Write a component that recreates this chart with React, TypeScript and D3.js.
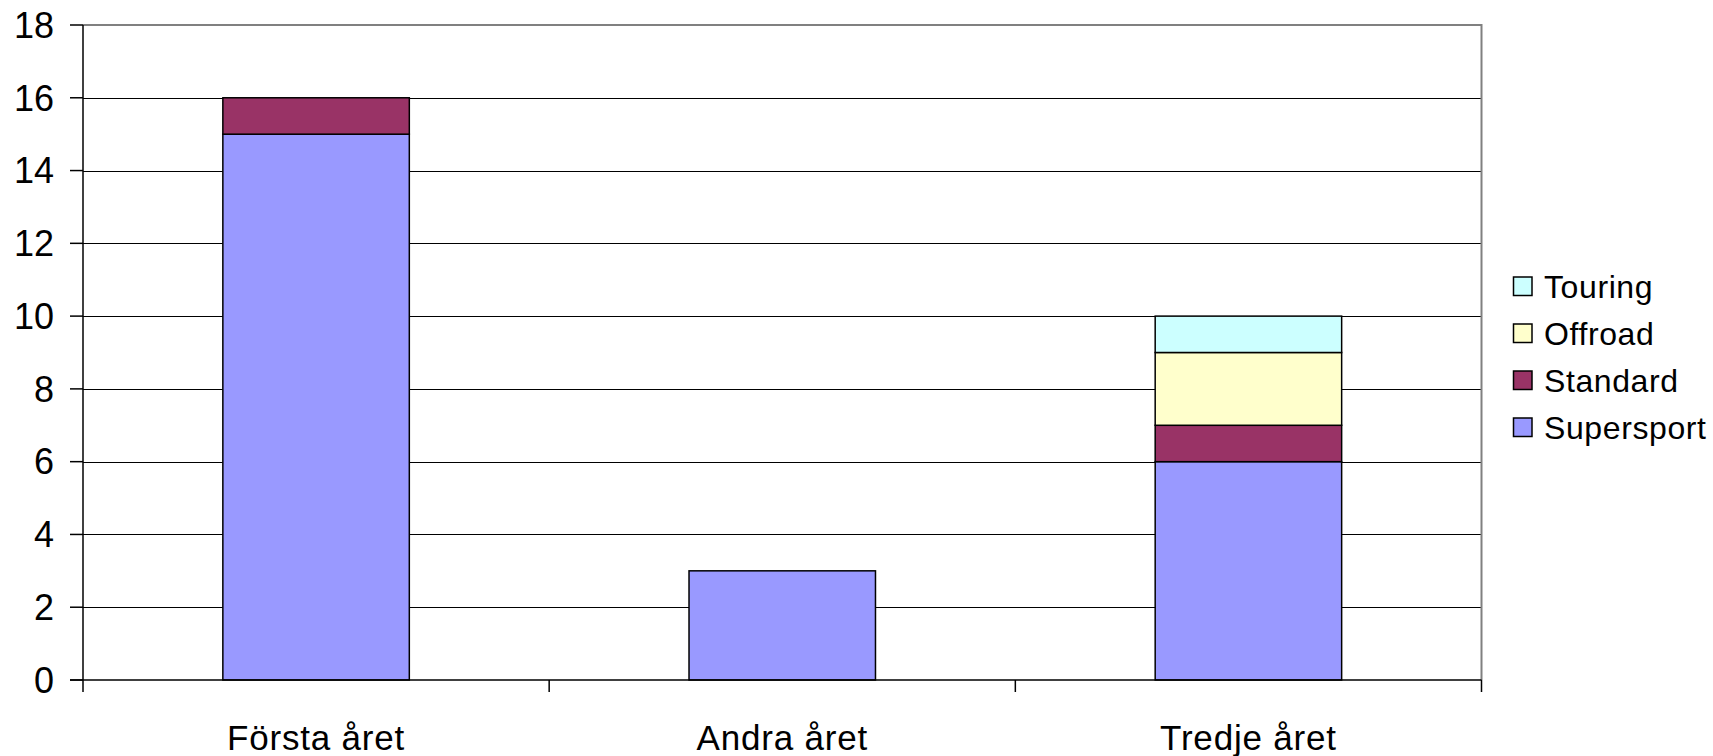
import React from "react";
import * as d3 from "d3";

const categories = ["Första året", "Andra året", "Tredje året"];
const seriesNames = ["Supersport", "Standard", "Offroad", "Touring"];
const supersport = [15, 3, 6];
const standard = [1, 0, 1];
const offroad = [0, 0, 2];
const touring = [0, 0, 1];
const seriesColors = ["#9999FF", "#993366", "#FFFFCC", "#CCFFFF"];
const yTicks = [0, 2, 4, 6, 8, 10, 12, 14, 16, 18];

const W = 1713;
const H = 756;
const left = 83;
const right = 1481.5;
const top = 25;
const bottom = 680;

export default function App() {
  const x = d3.scaleBand<string>().domain(categories).range([left, right]).paddingInner(0).paddingOuter(0);
  const y = d3.scaleLinear().domain([0, 18]).range([bottom, top]);
  const barW = x.bandwidth() * 0.4;

  const table = categories.map((c, i) => ({
    cat: c,
    Supersport: supersport[i],
    Standard: standard[i],
    Offroad: offroad[i],
    Touring: touring[i],
  }));
  const stacked = d3.stack<any>().keys(seriesNames)(table);

  const font = "'Liberation Sans', Arial, sans-serif";
  const legendItems = [...seriesNames].reverse();
  const legendY0 = 286.5;
  const legendStep = 47;

  return (
    <svg width={W} height={H} style={{ position: "absolute", left: 0, top: 0 }} fontFamily={font}>
      <rect x={0} y={0} width={W} height={H} fill="#fff" />
      {/* gridlines */}
      {yTicks.filter((t) => t > 0 && t < 18).map((t) => (
        <line key={t} x1={left} x2={right} y1={Math.round(y(t)) + 0.5} y2={Math.round(y(t)) + 0.5} stroke="#000" strokeWidth={1} />
      ))}
      {/* plot border top/right */}
      <line x1={left} x2={right} y1={top} y2={top} stroke="#808080" strokeWidth={2} />
      <line x1={right} x2={right} y1={top - 1} y2={bottom} stroke="#808080" strokeWidth={2} />
      {/* bars */}
      {stacked.map((s, si) =>
        s.map((d, ci) => {
          if (d[1] - d[0] <= 0) return null;
          const cx = (x(categories[ci]) as number) + x.bandwidth() / 2;
          return (
            <rect
              key={si + "-" + ci}
              x={cx - barW / 2}
              y={y(d[1])}
              width={barW}
              height={y(d[0]) - y(d[1])}
              fill={seriesColors[si]}
              stroke="#000"
              strokeWidth={1.5}
            />
          );
        })
      )}
      {/* axes */}
      <line x1={left} x2={left} y1={top} y2={692} stroke="#000" strokeWidth={1.5} />
      <line x1={70} x2={right} y1={bottom} y2={bottom} stroke="#000" strokeWidth={1.5} />
      {yTicks.map((t) => (
        <g key={"yt" + t}>
          <line x1={70} x2={left} y1={y(t)} y2={y(t)} stroke="#000" strokeWidth={1.5} />
          <text x={54} y={y(t)} dy="0.355em" textAnchor="end" fontSize={36} fill="#000">
            {t}
          </text>
        </g>
      ))}
      {categories.map((c, i) => {
        const xs = (x(c) as number) + x.bandwidth();
        return <line key={"xt" + i} x1={xs} x2={xs} y1={bottom} y2={692} stroke="#000" strokeWidth={1.5} />;
      })}
      {categories.map((c) => (
        <text key={"xl" + c} x={(x(c) as number) + x.bandwidth() / 2} y={750} textAnchor="middle" fontSize={35} letterSpacing={0.8} fill="#000">
          {c}
        </text>
      ))}
      {/* legend */}
      {legendItems.map((name, i) => {
        const si = seriesNames.indexOf(name);
        const cy = legendY0 + i * legendStep;
        return (
          <g key={"lg" + name}>
            <rect x={1513.5} y={cy - 9.5} width={18.5} height={18.5} fill={seriesColors[si]} stroke="#000" strokeWidth={1.5} />
            <text x={1544} y={cy} dy="0.355em" fontSize={32} letterSpacing={0.6} fill="#000">
              {name}
            </text>
          </g>
        );
      })}
    </svg>
  );
}
